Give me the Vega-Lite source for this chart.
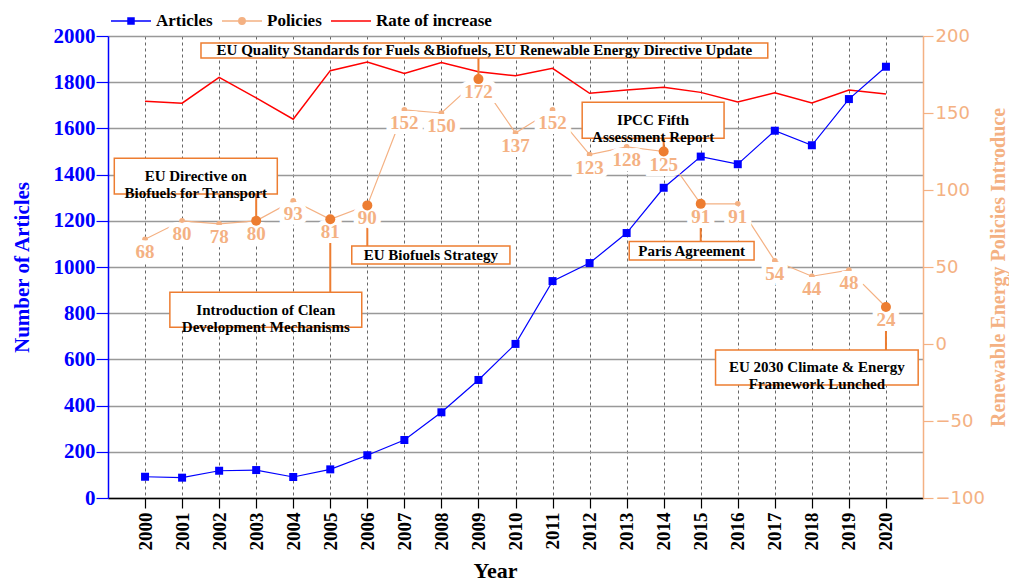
{
  "$schema": "https://vega.github.io/schema/vega-lite/v6.json",
  "width": 815,
  "height": 462,
  "autosize": {"type": "none"},
  "padding": {"left": 108, "top": 36, "right": 86, "bottom": 87},
  "background": "white",
  "config": {"view": {"stroke": null}},
  "datasets": {
    "main": [
      {"year": 2000, "articles": 92, "policies": 68, "rate": 1718},
      {"year": 2001, "articles": 88, "policies": 80, "rate": 1709},
      {"year": 2002, "articles": 118, "policies": 78, "rate": 1821},
      {"year": 2003, "articles": 121, "policies": 80, "rate": 1732},
      {"year": 2004, "articles": 91, "policies": 93, "rate": 1640},
      {"year": 2005, "articles": 124, "policies": 81, "rate": 1850},
      {"year": 2006, "articles": 185, "policies": 90, "rate": 1887},
      {"year": 2007, "articles": 251, "policies": 152, "rate": 1838},
      {"year": 2008, "articles": 371, "policies": 150, "rate": 1885},
      {"year": 2009, "articles": 511, "policies": 172, "rate": 1845},
      {"year": 2010, "articles": 667, "policies": 137, "rate": 1828},
      {"year": 2011, "articles": 939, "policies": 152, "rate": 1860},
      {"year": 2012, "articles": 1017, "policies": 123, "rate": 1752},
      {"year": 2013, "articles": 1147, "policies": 128, "rate": 1766},
      {"year": 2014, "articles": 1343, "policies": 125, "rate": 1778},
      {"year": 2015, "articles": 1478, "policies": 91, "rate": 1756},
      {"year": 2016, "articles": 1445, "policies": 91, "rate": 1714},
      {"year": 2017, "articles": 1590, "policies": 54, "rate": 1754},
      {"year": 2018, "articles": 1527, "policies": 44, "rate": 1710},
      {"year": 2019, "articles": 1727, "policies": 48, "rate": 1766},
      {"year": 2020, "articles": 1867, "policies": 24, "rate": 1749}
    ],
    "notes": [
      {"year": 2009, "note": "EU Quality Standards for Fuels &Biofuels, EU Renewable Energy Directive Update", "x1": 2001.51, "x2": 2016.81, "ytop": 195.5, "ybot": 185.7},
      {"year": 2003, "note": ["EU Directive on", "Biofuels for Transport"], "x1": 1999.17, "x2": 2003.57, "ytop": 120.6, "ybot": 97.4},
      {"year": 2005, "note": ["Introduction of Clean", "Development Mechanisms"], "x1": 2000.67, "x2": 2005.85, "ytop": 33.6, "ybot": 10.85},
      {"year": 2006, "note": "EU Biofuels Strategy", "x1": 2005.58, "x2": 2009.85, "ytop": 63.6, "ybot": 52.0},
      {"year": 2014, "note": ["IPCC Fifth", "Assessment Report"], "x1": 2011.8, "x2": 2015.63, "ytop": 157.0, "ybot": 133.6},
      {"year": 2015, "note": "Paris Agreement", "x1": 2013.07, "x2": 2016.44, "ytop": 66.5, "ybot": 54.6},
      {"year": 2020, "note": ["EU 2030 Climate & Energy", "Framework Lunched"], "x1": 2015.4, "x2": 2020.87, "ytop": -3.9, "ybot": -26.6}
    ],
    "series": [
      {"series": "Articles"},
      {"series": "Policies"},
      {"series": "Rate of increase"}
    ]
  },
  "layer": [
    {
      "data": {"name": "main"},
      "layer": [
        {
          "mark": {"type": "line", "color": "#FF0000", "strokeWidth": 1.5},
          "encoding": {
            "x": {
              "field": "year", "type": "quantitative",
              "scale": {"domain": [1999, 2021], "nice": false, "zero": false},
              "axis": {
                "values": [2000,2001,2002,2003,2004,2005,2006,2007,2008,2009,2010,2011,2012,2013,2014,2015,2016,2017,2018,2019,2020],
                "format": "d", "labelAngle": -90, "labelOverlap": false, "labelFlush": false,
                "labelFont": "Liberation Serif", "labelFontWeight": "bold", "labelFontSize": 19, "labelColor": "black", "labelPadding": 4,
                "tickColor": "black", "tickSize": 10, "tickWidth": 1.2,
                "domainColor": "black", "domainWidth": 1.5,
                "grid": true, "gridColor": "#666666", "gridDash": [3, 3], "gridWidth": 1,
                "title": "Year", "titleFont": "Liberation Serif", "titleFontSize": 22, "titleFontWeight": "bold", "titleColor": "black",
                "titleX": 387, "titleY": 79, "titleBaseline": "alphabetic", "titleAlign": "center"
              }
            },
            "y": {
              "field": "rate", "type": "quantitative",
              "scale": {"domain": [0, 2000], "nice": false},
              "axis": {
                "orient": "left",
                "values": [0,100,200,300,400,500,600,700,800,900,1000,1100,1200,1300,1400,1500,1600,1700,1800,1900,2000],
                "format": "d",
                "labelExpr": "datum.value % 200 === 0 ? datum.label : ''",
                "labelOverlap": false, "labelFlush": false,
                "labelFont": "Liberation Serif", "labelFontWeight": "bold", "labelFontSize": 21, "labelColor": "#0000FF", "labelPadding": 1,
                "domainColor": "#0000FF", "domainWidth": 1.5,
                "tickColor": "#0000FF", "tickWidth": 1.2,
                "tickSize": {"condition": {"test": "datum.value % 200 === 0", "value": 12}, "value": 6},
                "grid": true, "gridColor": "#999999", "gridWidth": 1.3,
                "gridOpacity": {"condition": {"test": "datum.value % 200 === 0", "value": 1}, "value": 0},
                "title": "Number of Articles", "titleFont": "Liberation Serif", "titleFontSize": 21, "titleFontWeight": "bold", "titleColor": "#0000FF",
                "titleAngle": 270, "titleX": -86, "titleY": 231, "titleBaseline": "middle", "titleAlign": "center"
              }
            }
          }
        },
        {
          "mark": {"type": "line", "color": "#0000FF", "strokeWidth": 1.2},
          "encoding": {
            "x": {"field": "year", "type": "quantitative"},
            "y": {"field": "articles", "type": "quantitative"}
          }
        },
        {
          "mark": {"type": "square", "color": "#0000FF", "filled": true, "opacity": 1, "size": 64},
          "encoding": {
            "x": {"field": "year", "type": "quantitative"},
            "y": {"field": "articles", "type": "quantitative"}
          }
        }
      ]
    },
    {
      "layer": [
        {
          "data": {"name": "main"},
          "mark": {"type": "line", "color": "#F4B183", "strokeWidth": 1.2},
          "encoding": {
            "x": {"field": "year", "type": "quantitative"},
            "y": {
              "field": "policies", "type": "quantitative",
              "scale": {"domain": [-100, 200], "nice": false, "zero": false},
              "axis": {
                "orient": "right",
                "values": [-100, -50, 0, 50, 100, 150, 200],
                "labelOverlap": false, "labelFlush": false,
                "labelFont": "DejaVu Sans", "labelFontSize": 18, "labelColor": "#F4B183", "labelPadding": 2,
                "domainColor": "#F4B183", "domainWidth": 1.5,
                "tickColor": "#F4B183", "tickSize": 10, "tickWidth": 1.2,
                "grid": false,
                "title": "Renewable Energy Policies Introduce", "titleFont": "Liberation Serif", "titleFontSize": 20, "titleFontWeight": "bold", "titleColor": "#F4B183",
                "titleAngle": 270, "titleX": 75, "titleY": 231, "titleBaseline": "middle", "titleAlign": "center"
              }
            }
          }
        },
        {
          "data": {"name": "main"},
          "mark": {"type": "circle", "color": "#F4B183", "size": 32, "opacity": 1},
          "encoding": {
            "x": {"field": "year", "type": "quantitative"},
            "y": {"field": "policies", "type": "quantitative"}
          }
        },
        {
          "data": {"name": "notes"},
          "transform": [
            {"lookup": "year", "from": {"data": {"name": "main"}, "key": "year", "fields": ["policies"]}},
            {"calculate": "datum.ybot > datum.policies ? datum.ybot : datum.ytop", "as": "attach"}
          ],
          "mark": {"type": "rule", "color": "#ED7D31", "strokeWidth": 2},
          "encoding": {
            "x": {"field": "year", "type": "quantitative"},
            "y": {"field": "policies", "type": "quantitative"},
            "y2": {"field": "attach"}
          }
        },
        {
          "data": {"name": "main"},
          "mark": {"type": "text", "font": "Liberation Serif", "fontWeight": "bold", "fontSize": 19, "baseline": "alphabetic", "align": "center", "dy": 19, "color": "white", "stroke": "white", "strokeWidth": 10},
          "encoding": {
            "x": {"field": "year", "type": "quantitative"},
            "y": {"field": "policies", "type": "quantitative"},
            "text": {"field": "policies"}
          }
        },
        {
          "data": {"name": "main"},
          "mark": {"type": "text", "font": "Liberation Serif", "fontWeight": "bold", "fontSize": 19, "baseline": "alphabetic", "align": "center", "dy": 19, "color": "#F4B183"},
          "encoding": {
            "x": {"field": "year", "type": "quantitative"},
            "y": {"field": "policies", "type": "quantitative"},
            "text": {"field": "policies"}
          }
        },
        {
          "data": {"name": "notes"},
          "transform": [
            {"lookup": "year", "from": {"data": {"name": "main"}, "key": "year", "fields": ["policies"]}}
          ],
          "mark": {"type": "circle", "color": "#ED7D31", "size": 100, "opacity": 1},
          "encoding": {
            "x": {"field": "year", "type": "quantitative"},
            "y": {"field": "policies", "type": "quantitative"}
          }
        },
        {
          "data": {"name": "notes"},
          "mark": {"type": "rect", "fill": "white", "stroke": "#ED7D31", "strokeWidth": 1.5},
          "encoding": {
            "x": {"field": "x1", "type": "quantitative"},
            "x2": {"field": "x2"},
            "y": {"field": "ytop", "type": "quantitative"},
            "y2": {"field": "ybot"}
          }
        },
        {
          "data": {"name": "notes"},
          "transform": [
            {"calculate": "(datum.x1 + datum.x2) / 2", "as": "cx"},
            {"calculate": "(datum.ytop + datum.ybot) / 2", "as": "cy"}
          ],
          "mark": {"type": "text", "font": "Liberation Serif", "fontWeight": "bold", "fontSize": 15, "lineHeight": 17, "baseline": "middle", "align": "center", "color": "black"},
          "encoding": {
            "x": {"field": "cx", "type": "quantitative"},
            "y": {"field": "cy", "type": "quantitative"},
            "text": {"field": "note"}
          }
        },
        {
          "data": {"name": "series"},
          "mark": {"type": "point", "filled": true, "clip": true, "strokeWidth": 1.5, "opacity": 1},
          "encoding": {
            "x": {"datum": 1990, "type": "quantitative"},
            "y": {"datum": 0, "type": "quantitative"},
            "fill": {
              "field": "series", "type": "nominal",
              "scale": {"domain": ["Articles", "Policies", "Rate of increase"], "range": ["#0000FF", "#F4B183", "#FF0000"]},
              "legend": {
                "orient": "none", "legendX": 2, "legendY": -36, "direction": "horizontal", "title": null,
                "symbolSize": 1600, "symbolStrokeWidth": 1.5, "symbolOpacity": 1,
                "labelFont": "Liberation Serif", "labelFontWeight": "bold", "labelFontSize": 17, "labelColor": "black",
                "labelOffset": 4, "columnPadding": 6
              }
            },
            "stroke": {
              "field": "series", "type": "nominal",
              "scale": {"domain": ["Articles", "Policies", "Rate of increase"], "range": ["#0000FF", "#F4B183", "#FF0000"]}
            },
            "shape": {
              "field": "series", "type": "nominal",
              "scale": {
                "domain": ["Articles", "Policies", "Rate of increase"],
                "range": [
                  "M-1,0H1M-0.15,-0.15H0.15V0.15H-0.15Z",
                  "M-1,0H1M0.16,0A0.16,0.16,0,1,1,-0.16,0A0.16,0.16,0,1,1,0.16,0Z",
                  "M-1,0H1"
                ]
              }
            }
          }
        }
      ]
    }
  ],
  "resolve": {"scale": {"y": "independent"}}
}
